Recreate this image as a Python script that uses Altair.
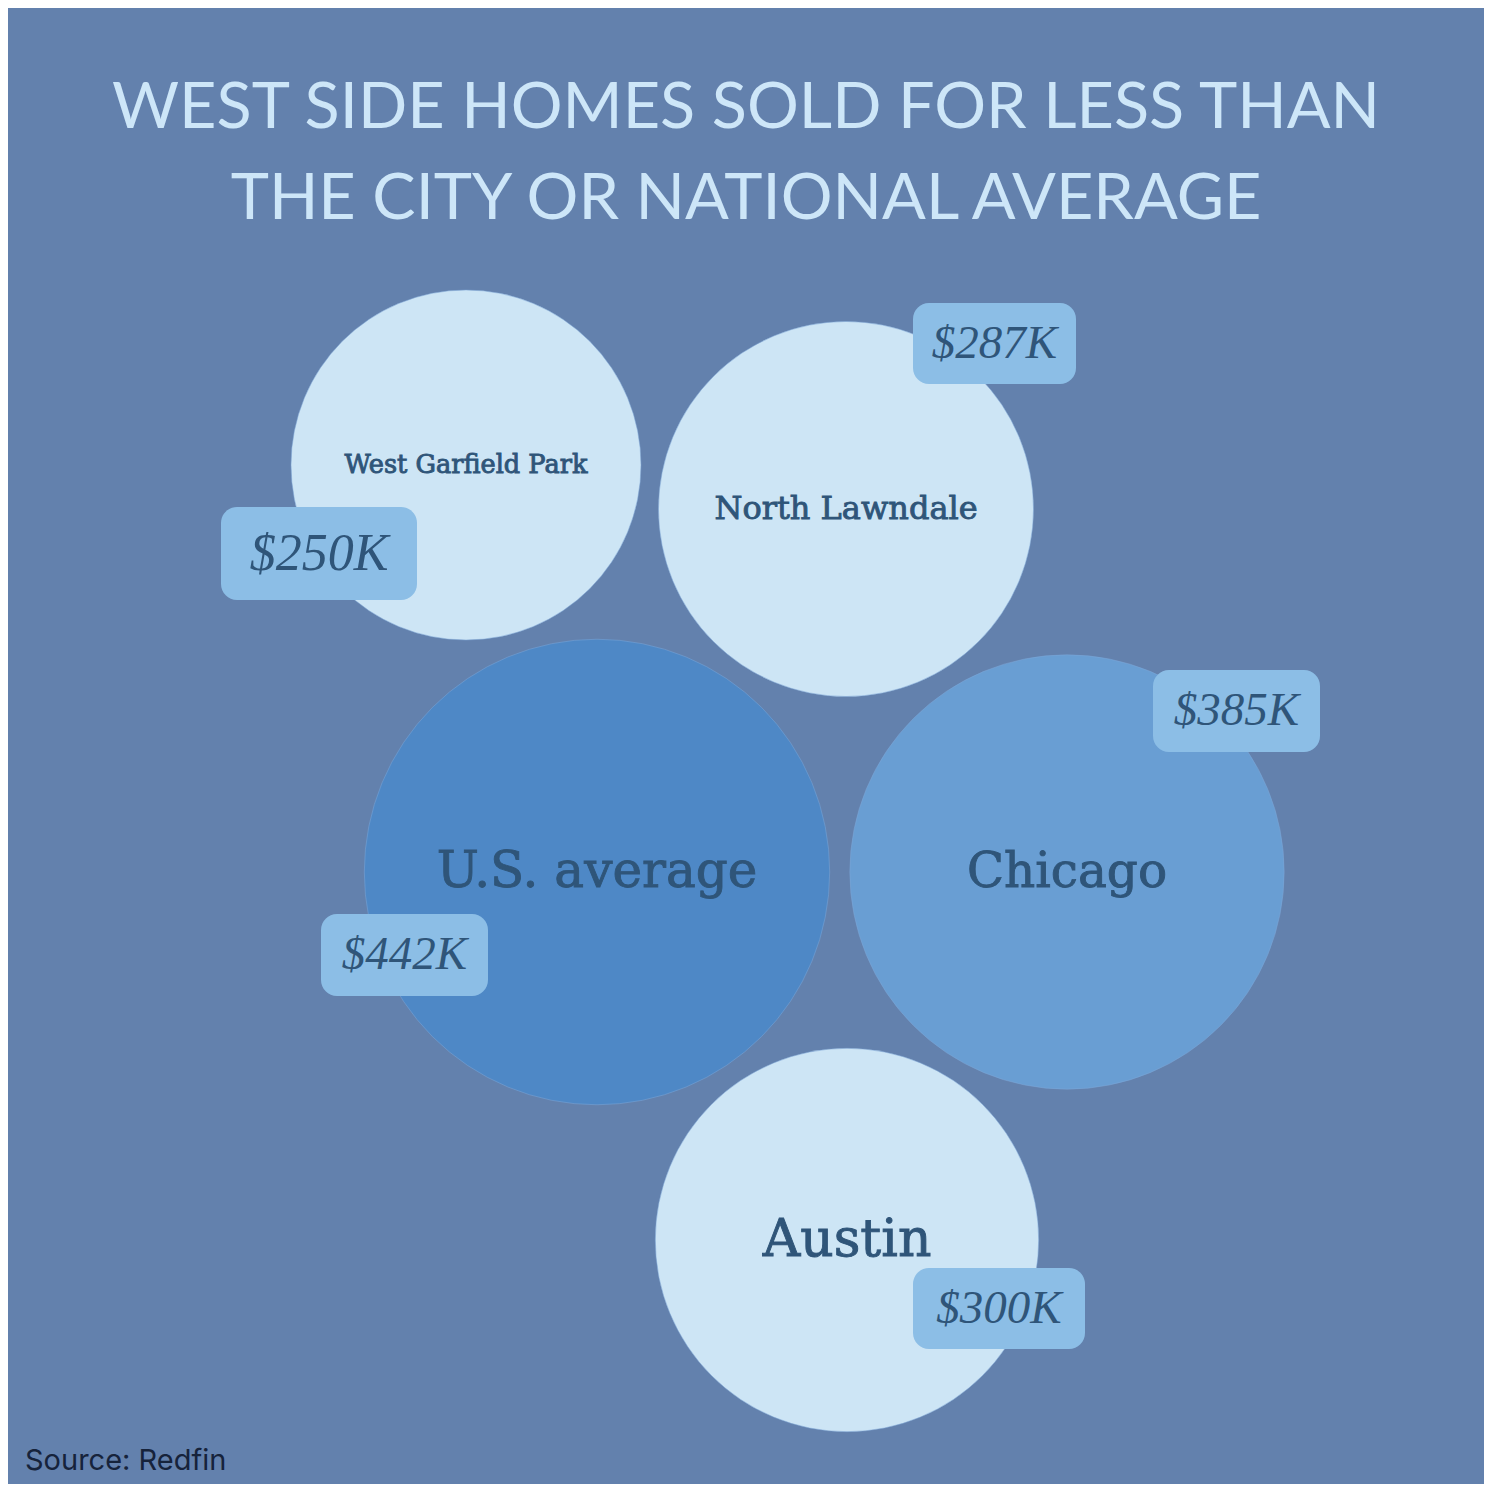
import altair as alt
import pandas as pd

# ---- data ----
names = ["West Garfield Park", "North Lawndale", "U.S. average", "Chicago", "Austin"]
values = [250, 287, 442, 385, 300]          # median sale price, $K
value_labels = ["$250K", "$287K", "$442K", "$385K", "$300K"]

# ---- layout (bubble-pack positions in page units) ----
cx = [466, 846, 597, 1067, 847]
cy = [465, 509, 872, 872, 1240]
name_size = [25.6, 32, 50, 48.5, 52]
box_x1 = [221, 913, 321, 1153, 913]
box_x2 = [417, 1076, 488, 1320, 1085]
box_y1 = [507, 303, 914, 670, 1268]
box_y2 = [600, 384, 996, 752, 1349]
value_size = [52, 47, 47, 47, 47]

circle_colors = ["#CDE5F5", "#CDE5F5", "#4E88C6", "#699ED3", "#CDE5F5"]
bg = "#6381AD"
box_color = "#8CBEE6"
text_color = "#2F5579"

df = pd.DataFrame({
    "name": names, "value": values, "vlabel": value_labels,
    "cx": cx, "cy": cy, "nsize": name_size,
    "bx1": box_x1, "bx2": box_x2, "by1": box_y1, "by2": box_y2,
    "vsize": value_size,
})
df["bxc"] = (df["bx1"] + df["bx2"]) / 2
df["byc"] = (df["by1"] + df["by2"]) / 2

source_df = pd.DataFrame({"t": ["Source: Redfin"], "x": [25], "y": [1461]})

W = 1476
xs = alt.Scale(domain=[8, 8 + W], range=[0, W], nice=False, zero=False)
ys = alt.Scale(domain=[8, 8 + W], range=[0, W], nice=False, zero=False)

base = alt.Chart(df)

circles = base.mark_circle(opacity=1, stroke="#7fa6d6", strokeWidth=0.5).encode(
    x=alt.X("cx:Q", scale=xs, axis=None),
    y=alt.Y("cy:Q", scale=ys, axis=None),
    size=alt.Size("value:Q", scale=alt.Scale(domain=[0, 1000], range=[0, 490000]), legend=None),
    color=alt.Color("name:N", scale=alt.Scale(domain=names, range=circle_colors), legend=None),
)

name_text = base.mark_text(font="DejaVu Serif", fontWeight="normal", color=text_color,
                           stroke=text_color, strokeWidth=0.9,
                           baseline="middle", align="center").encode(
    x=alt.X("cx:Q", scale=xs, axis=None),
    y=alt.Y("cy:Q", scale=ys, axis=None),
    size=alt.Size("nsize:Q", scale=None),
    text="name:N",
)

boxes = base.mark_rect(color=box_color, cornerRadius=16).encode(
    x=alt.X("bx1:Q", scale=xs, axis=None), x2="bx2:Q",
    y=alt.Y("by1:Q", scale=ys, axis=None), y2="by2:Q",
)

value_text = base.mark_text(font="Liberation Serif", fontStyle="italic", color=text_color,
                            baseline="middle", align="center").encode(
    x=alt.X("bxc:Q", scale=xs, axis=None),
    y=alt.Y("byc:Q", scale=ys, axis=None),
    size=alt.Size("vsize:Q", scale=None),
    text="vlabel:N",
)

source = alt.Chart(source_df).mark_text(font="Inter", fontSize=29, color="#16233B",
                                         align="left", baseline="middle").encode(
    x=alt.X("x:Q", scale=xs, axis=None),
    y=alt.Y("y:Q", scale=ys, axis=None),
    text="t:N",
)

chart = alt.layer(circles, name_text, boxes, value_text, source).properties(
    width=W, height=W, padding=0, autosize="none",
    title=alt.TitleParams(
        text=["WEST SIDE HOMES SOLD FOR LESS THAN", "THE CITY OR NATIONAL AVERAGE"],
        font="Lato", fontSize=64.8, fontWeight="normal", color="#CDE6F8",
        anchor="middle", offset=-225, lineHeight=91,
    ),
).configure(background=bg).configure_view(stroke=None)

chart.save("out.html", embed_options={"renderer": "svg", "actions": False})
